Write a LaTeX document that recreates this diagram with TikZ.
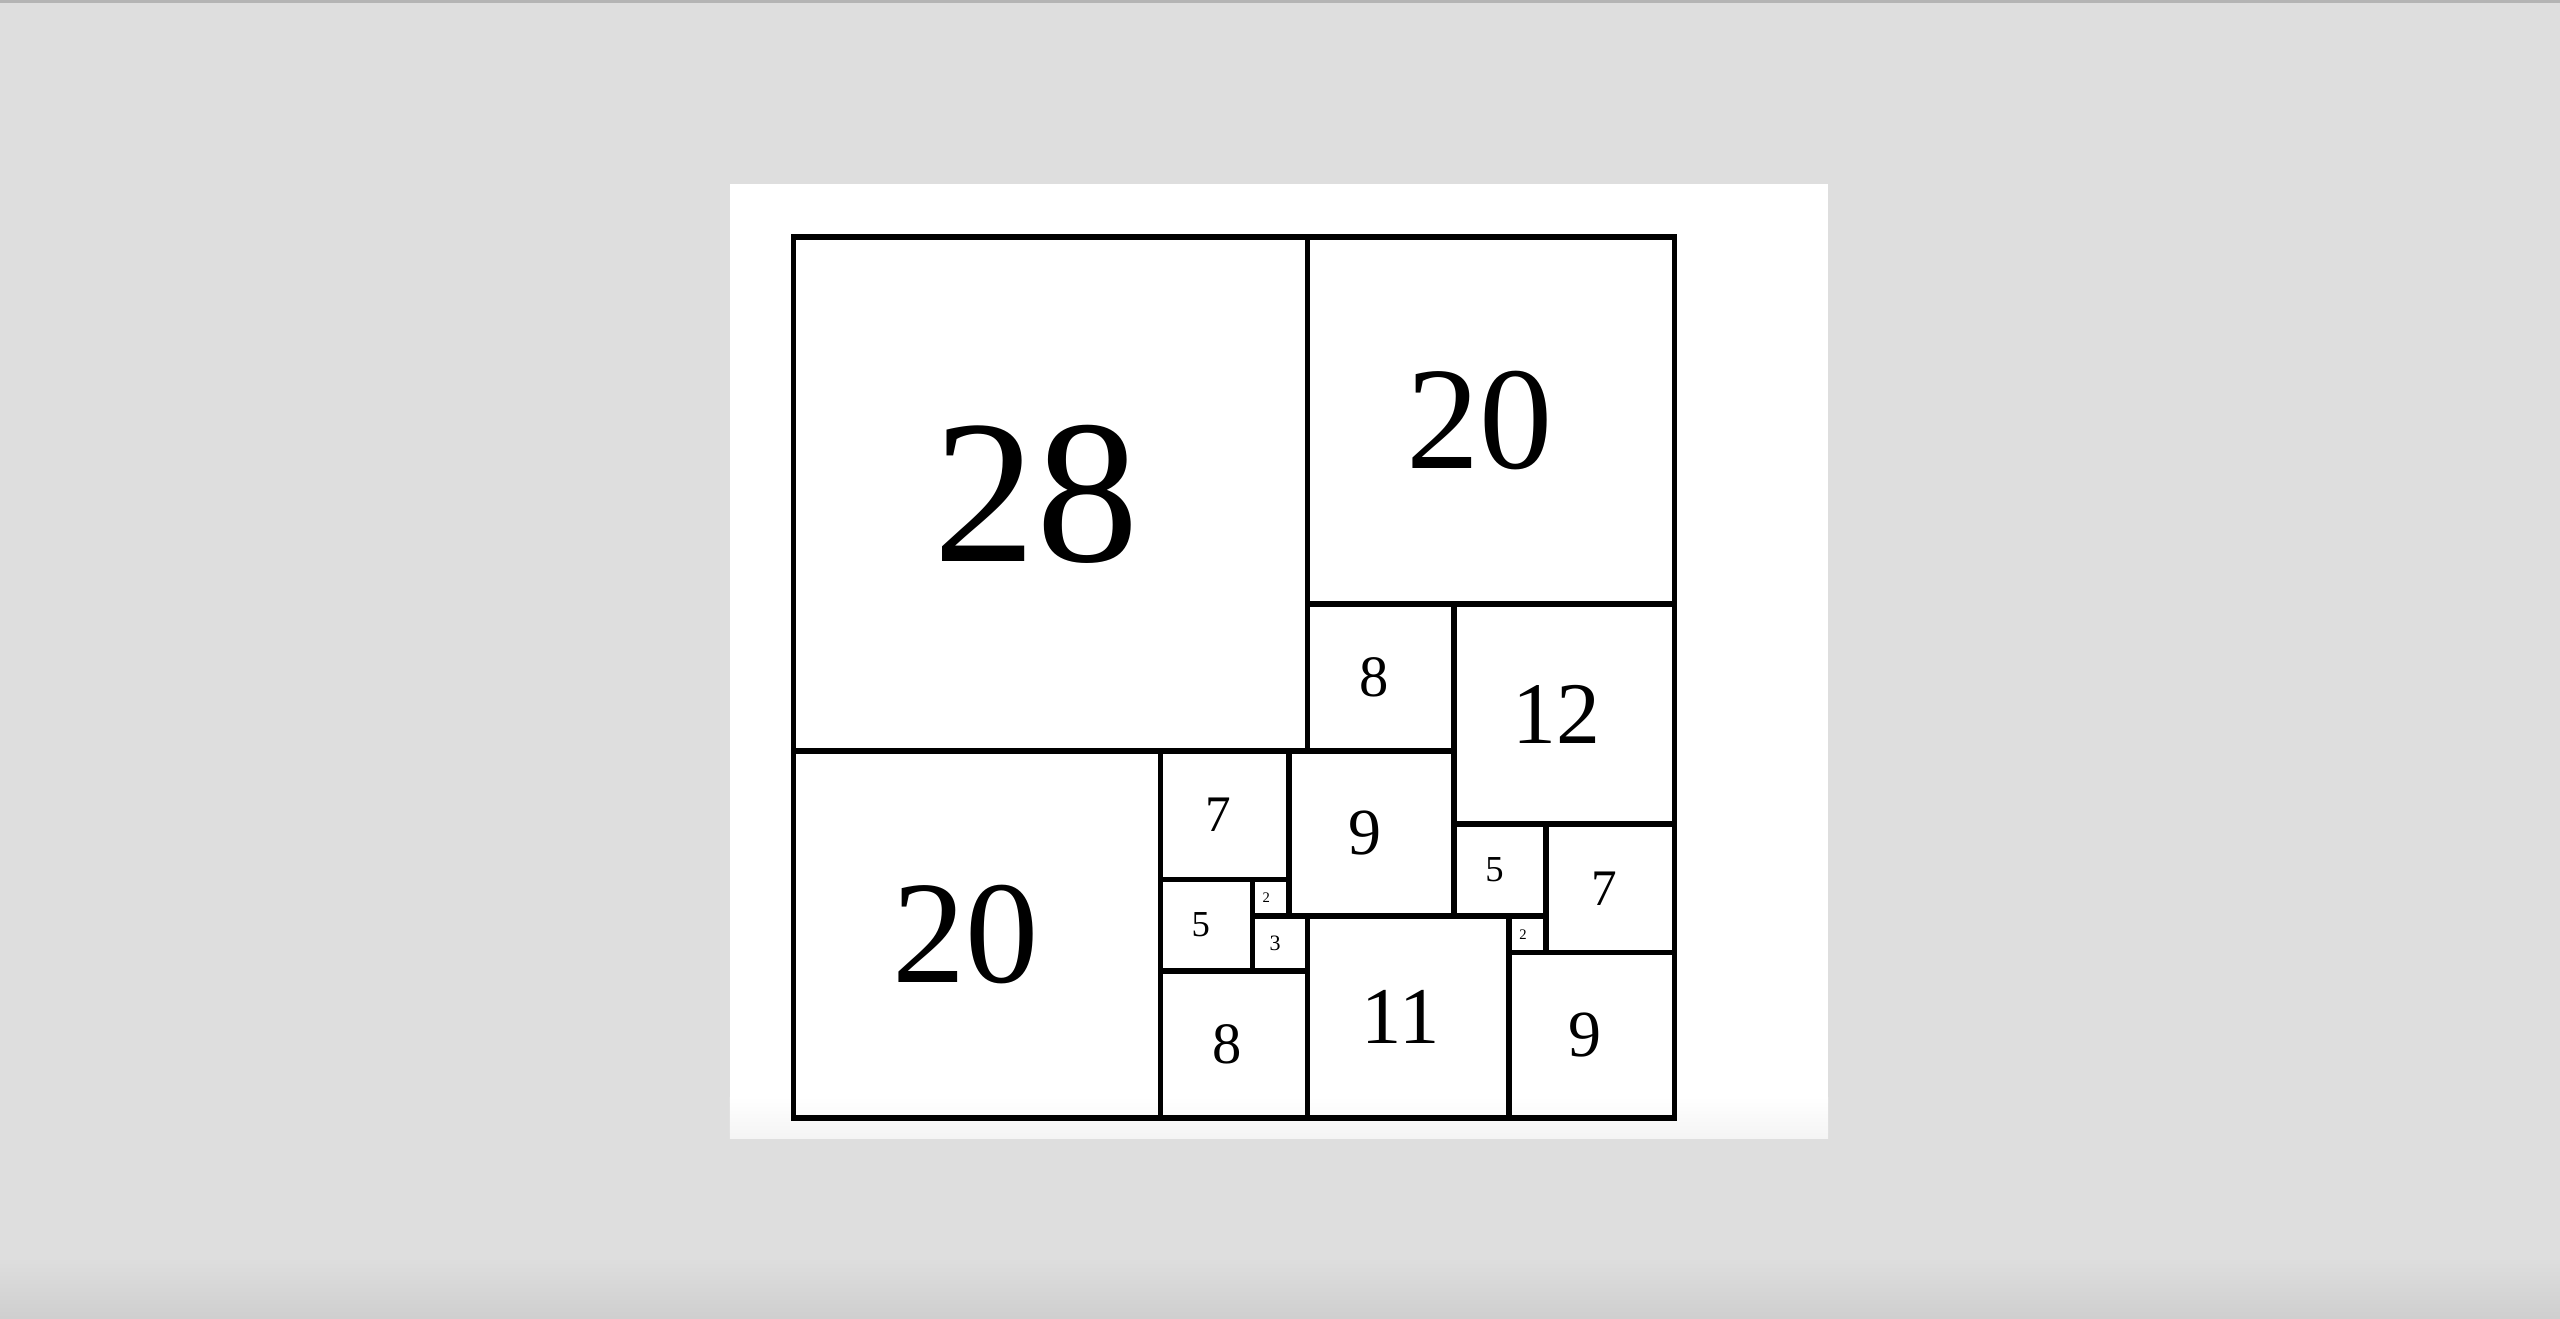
\documentclass[tikz,border=0pt]{standalone}
\usepackage{fontspec}
\setmainfont{Liberation Serif}
\definecolor{pagegray}{HTML}{DEDEDE}
\definecolor{edgegray}{HTML}{B4B4B4}
\definecolor{shadegray}{HTML}{CFCFCF}
\definecolor{panelfoot}{HTML}{F4F4F4}
\begin{document}
\begin{tikzpicture}[
    % one unit = one side unit of the squares
    x=0.1835cm, y=-0.1835cm,
    % style of a tile and of its label
    tile/.style={draw=black, line width=0.055cm},
    tile_label/.style={inner sep=0pt, text=black}
]

% =====================================================================
% BACKGROUND
% =====================================================================
\fill[pagegray] (-7.935cm,2.37cm) rectangle (17.665cm,-10.81cm);
\fill[edgegray] (-7.935cm,2.37cm) rectangle (17.665cm,2.34cm);
\shade[top color=pagegray, bottom color=shadegray]
    (-7.935cm,-10.2cm) rectangle (17.665cm,-10.81cm);
\fill[white] (-0.635cm,0.535cm) rectangle (10.345cm,-9.015cm);
\shade[top color=white, bottom color=panelfoot]
    (-0.635cm,-8.6cm) rectangle (10.345cm,-9.015cm);

% =====================================================================
% TILES: x / y / side
% =====================================================================
\foreach \x/\y/\s in {0/0/28, 28/0/20, 28/20/8, 36/20/12, 0/28/20,
        20/28/7, 27/28/9, 20/35/5, 25/35/2, 25/37/3, 20/40/8,
        28/37/11, 36/32/5, 41/32/7, 39/37/2, 39/39/9} {
    \draw[tile] (\x,\y) rectangle ++(\s,\s);
    \pgfmathsetmacro\fs{2.083*\s}
    \node[tile_label, font=\fontsize{\fs pt}{\fs pt}\selectfont]
        (sq-\x-\y) at (\x+\s/2-0.02*\s-0.2, \y+\s/2) {\s};
}

\end{tikzpicture}
\end{document}
